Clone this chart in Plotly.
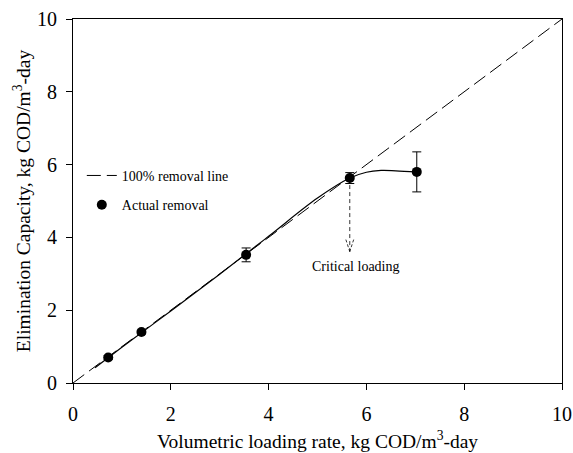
import plotly.graph_objects as go

# Data
loading_rate = [0.72, 1.40, 3.54, 5.66, 7.03]
elim_capacity = [0.70, 1.40, 3.52, 5.63, 5.80]
elim_error = [0.05, 0.05, 0.19, 0.15, 0.55]

# Fitted trend curve
fit_x = [0.45, 1.0, 2.0, 3.0, 4.0, 5.0, 5.66, 6.0, 6.3, 6.6, 7.03]
fit_y = [0.42, 0.98, 1.98, 2.99, 4.03, 5.08, 5.63, 5.79, 5.84, 5.83, 5.80]

# 100% removal line
ref_x = [0, 10]
ref_y = [0, 10]

tick_vals = [0, 2, 4, 6, 8, 10]
x_title = "Volumetric loading rate, kg COD/m<sup>3</sup>-day"
y_title = "Elimination Capacity, kg COD/m<sup>3</sup>-day"

critical_x = loading_rate[3]
critical_y = elim_capacity[3]
arrow_tip_y = 3.61

FONT = "Liberation Serif"

fig = go.Figure()
fig.add_trace(go.Scatter(
    x=ref_x, y=ref_y, mode="lines", name="100% removal line",
    line=dict(color="black", width=1, dash="14px,6px"), legendgroup="a"))
fig.add_trace(go.Scatter(
    x=fit_x, y=fit_y, mode="lines", showlegend=False,
    line=dict(color="black", width=1.2, shape="spline"), hoverinfo="skip"))
fig.add_trace(go.Scatter(
    x=loading_rate, y=elim_capacity, mode="markers", name="Actual removal",
    marker=dict(color="black", size=10),
    error_y=dict(type="data", array=elim_error, color="black", thickness=1, width=4.5),
    legendgroup="b"))

# critical loading arrow
fig.add_shape(type="line", x0=critical_x, x1=critical_x, y0=critical_y, y1=arrow_tip_y,
              line=dict(color="black", width=0.8, dash="4px,3px"))
fig.add_shape(type="line", x0=critical_x - 0.08, x1=critical_x, y0=arrow_tip_y + 0.33, y1=arrow_tip_y,
              line=dict(color="black", width=0.8, dash="3px,2px"))
fig.add_shape(type="line", x0=critical_x + 0.08, x1=critical_x, y0=arrow_tip_y + 0.33, y1=arrow_tip_y,
              line=dict(color="black", width=0.8, dash="3px,2px"))
fig.add_annotation(x=5.77, y=3.19, text="Critical loading", showarrow=False,
                   font=dict(family=FONT, size=14, color="black"))

# axis titles
fig.add_annotation(x=0.5, y=-0.1566, xref="paper", yref="paper", text=x_title,
                   showarrow=False, xanchor="center", yanchor="middle",
                   font=dict(family=FONT, size=19.5, color="black"))
fig.add_annotation(x=-0.104, y=0.5, xref="paper", yref="paper", text=y_title,
                   showarrow=False, textangle=-90, xanchor="center", yanchor="middle",
                   font=dict(family=FONT, size=19.5, color="black"))

axis_common = dict(
    range=[0, 10], tickvals=tick_vals, showgrid=False, zeroline=False,
    showline=True, linecolor="black", linewidth=1, mirror=True,
    ticks="outside", ticklen=6, tickcolor="black", tickwidth=1,
    tickfont=dict(family=FONT, size=20, color="black"),
    automargin=False,
)
fig.update_xaxes(**axis_common, ticklabelstandoff=7)
fig.update_yaxes(**axis_common, ticklabelstandoff=5)

fig.update_layout(
    width=573, height=453,
    margin=dict(l=73, r=11, t=19, b=70),
    paper_bgcolor="white", plot_bgcolor="white",
    showlegend=True,
    legend=dict(x=0.018, y=0.613, xanchor="left", yanchor="top",
                bgcolor="rgba(0,0,0,0)", font=dict(family=FONT, size=14, color="black"),
                tracegroupgap=8),
)

fig.write_html("out.html", config={"displayModeBar": False},
               post_script="document.body.style.margin='0';document.body.style.overflow='hidden';")
